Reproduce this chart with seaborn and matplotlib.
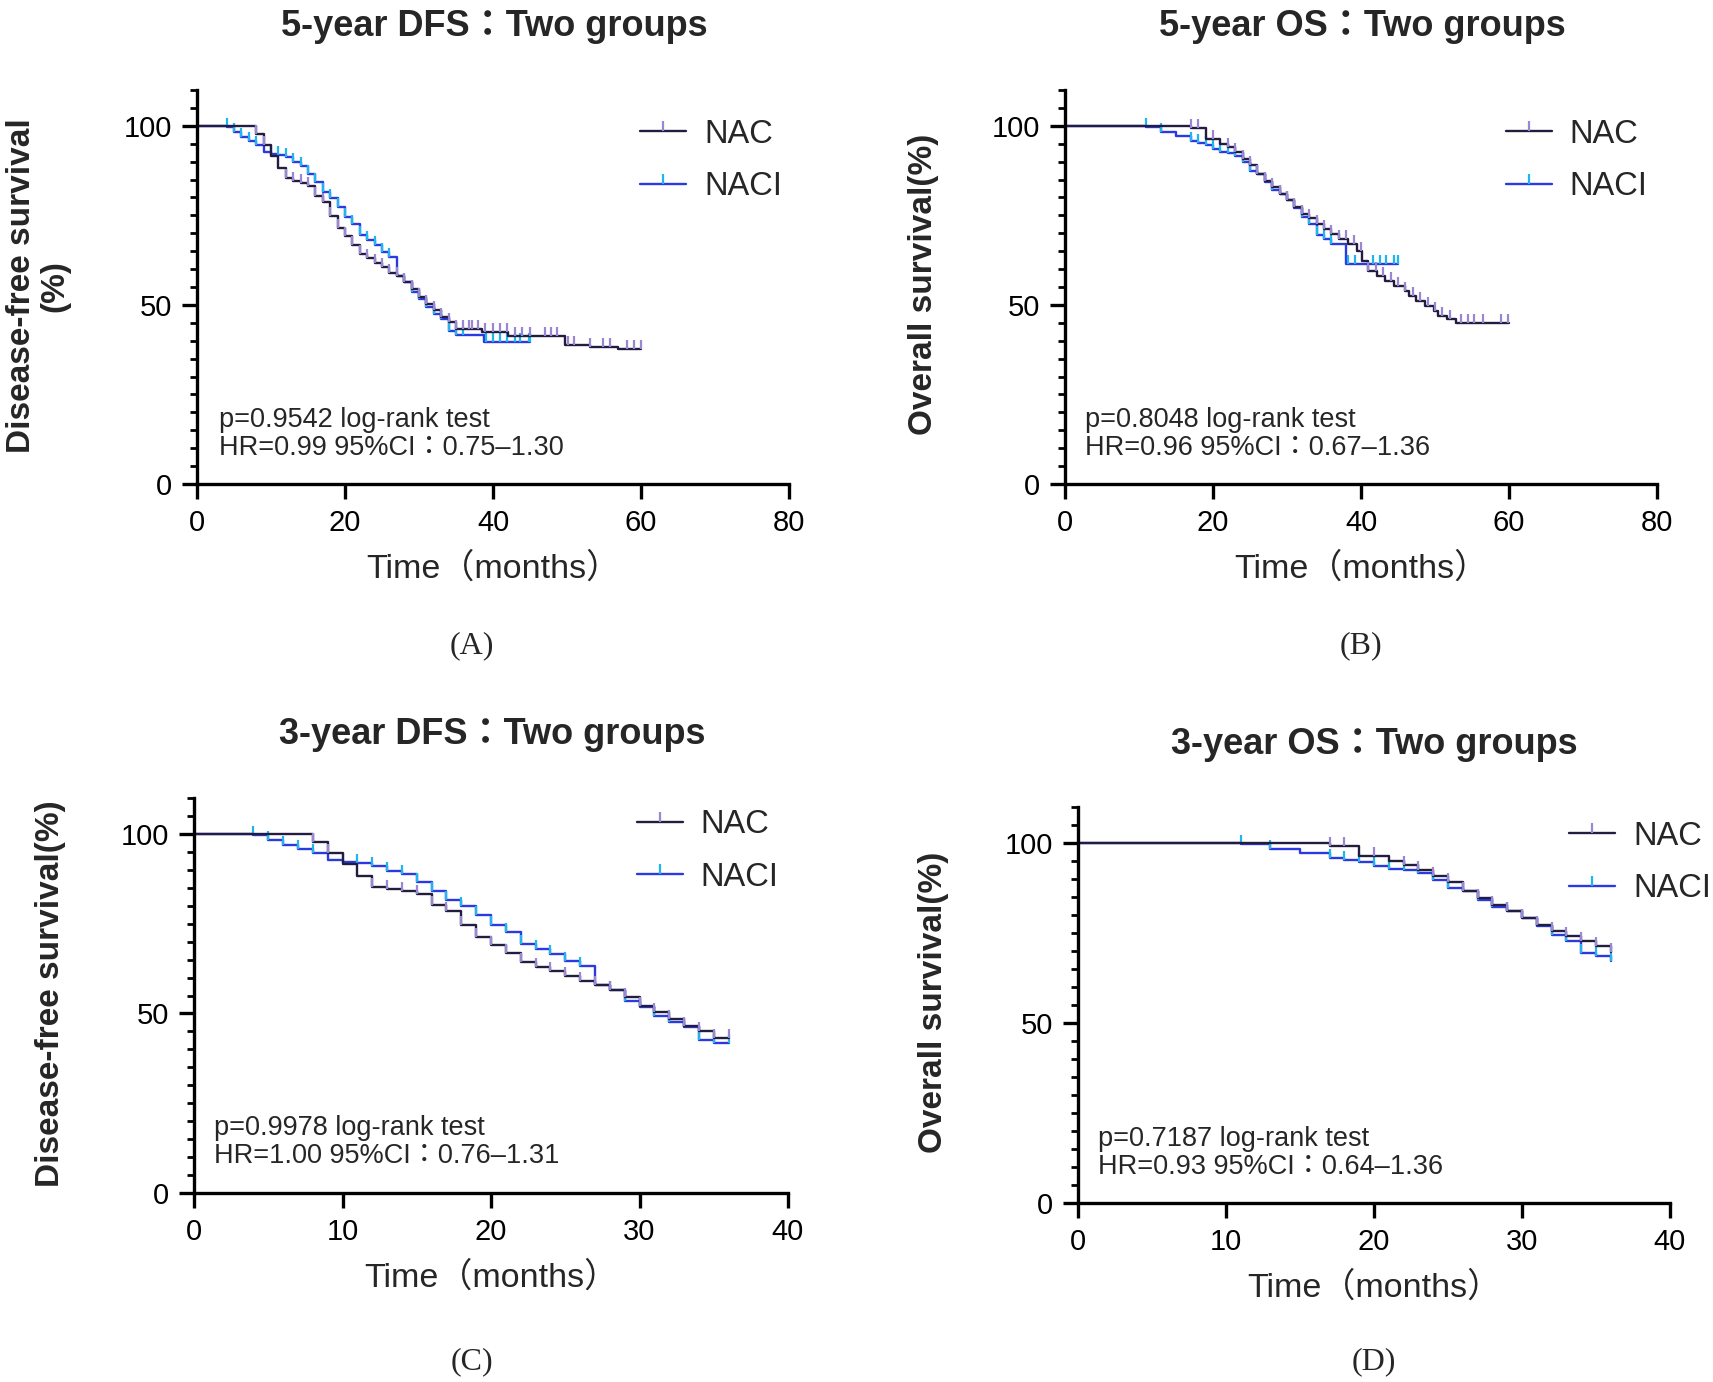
import numpy as np
import pandas as pd
import matplotlib
matplotlib.use("Agg")
import matplotlib.pyplot as plt
from matplotlib.ticker import MultipleLocator
from matplotlib.lines import Line2D
import seaborn as sns

dfs_nac_t = [0, 8, 9, 10, 11, 12, 13, 14, 15, 16, 17, 18, 19, 20, 21, 22, 23, 24, 25,
             26, 27, 28, 29, 30, 31, 32, 33, 34, 35, 38.5, 42, 49.7, 53.1, 56.9]
dfs_nac_s = [100, 97.7, 94.7, 91.6, 88.2, 85.3, 84.7, 84.0, 83.3, 80.3, 78.6, 74.7, 71.4,
             69.2, 66.8, 64.3, 63.0, 61.7, 60.5, 59.0, 58.0, 56.4, 54.5, 52.2, 50.3, 48.5,
             46.6, 45.2, 43.3, 42.4, 41.3, 38.8, 38.2, 37.7]
dfs_nac_end = 60
dfs_nac_cens = [8, 9, 12, 13, 14, 15, 16, 17, 18, 19, 20, 21, 22, 23, 24, 25, 26, 27, 28,
                29, 30, 31, 32, 33, 34, 35, 36, 36.7, 37.1, 38, 38.9, 40, 40.9, 41.9, 43,
                43.9, 45, 47, 47.9, 48.6, 50.2, 50.9, 53.1, 54.9, 55.8, 58.1, 59, 60]

dfs_naci_t = [0, 4, 5, 6, 7, 8, 9, 10, 11, 12, 13, 14, 15, 16, 17, 18, 19, 20, 21, 22,
              23, 24, 25, 26, 27, 28, 29, 30, 31, 32, 33, 34, 35, 38.8]
dfs_naci_s = [100, 99.7, 98.4, 97.0, 95.8, 94.6, 92.6, 92.1, 91.8, 91.2, 89.8, 88.7, 86.5,
              84.2, 81.6, 79.8, 77.3, 74.5, 72.6, 69.4, 68.0, 66.6, 64.7, 63.3, 58.0,
              56.4, 53.6, 51.7, 49.4, 47.5, 46.1, 42.6, 41.7, 39.6]
dfs_naci_end = 45
dfs_naci_cens = [4, 5, 6, 7, 8, 10, 11, 12, 13, 14, 15, 16, 17, 18, 19, 20, 21, 22, 23,
                 24, 25, 26, 28, 29, 30, 31, 32, 33, 34, 35, 36, 39.1, 40, 40.9, 41.9,
                 43, 43.7, 44.8, 45]

os_nac_t = [0, 17, 19, 21, 22, 23, 24, 25, 26, 27, 28, 29, 30, 31, 32, 33, 34, 35, 36,
            37, 38.3, 39.5, 40.1, 41, 42.2, 43.2, 44.4, 45.9, 46.5, 47.4, 48.6, 49.8,
            50.4, 51.6, 52.8]
os_nac_s = [100, 99.3, 96.3, 94.9, 94.0, 92.6, 90.7, 89.1, 86.6, 84.7, 82.9, 81.0, 79.2,
            77.3, 75.5, 74.3, 72.7, 71.3, 69.8, 68.4, 67.0, 65.1, 62.3, 59.5, 58.1, 56.7,
            55.3, 53.9, 52.5, 51.1, 49.7, 48.3, 46.9, 46.0, 45.0]
os_nac_end = 60
os_nac_cens = [17, 18, 20, 22, 23, 24, 25, 26, 27, 28, 29, 30, 31, 32, 33, 34, 35, 36,
               37, 38, 39, 40, 41, 42, 43, 44, 45, 46, 47, 48, 49, 50, 51, 52,
               53.5, 54.4, 55.3, 56.5, 58.9, 59.8]

os_naci_t = [0, 11, 13, 15, 17, 18, 19, 20, 21, 22, 23, 24, 25, 26, 27, 28, 29, 30, 31,
             32, 33, 34, 35, 36, 38]
os_naci_s = [100, 99.7, 98.4, 97.2, 95.8, 95.2, 94.7, 93.5, 92.8, 92.4, 91.7, 89.8, 87.5,
             86.6, 84.3, 82.2, 81.0, 79.2, 77.0, 74.5, 72.7, 69.4, 68.5, 67.1, 61.4]
os_naci_end = 45
os_naci_cens = [11, 13, 17, 18, 19, 20, 21, 22, 23, 24, 25, 26, 27, 28, 29, 30, 31, 32,
                33, 34, 35, 36, 38.3, 39.2, 41.6, 42.5, 43.4, 44.4, 45]

titles = ["5-year DFS\uff1aTwo groups", "5-year OS\uff1aTwo groups",
          "3-year DFS\uff1aTwo groups", "3-year OS\uff1aTwo groups"]
ylabels = ["Disease-free survival\n(%)", "Overall survival(%)",
           "Disease-free survival(%)", "Overall survival(%)"]
stats = ["p=0.9542 log-rank test\nHR=0.99 95%CI\uff1a0.75\u20131.30",
         "p=0.8048 log-rank test\nHR=0.96 95%CI\uff1a0.67\u20131.36",
         "p=0.9978 log-rank test\nHR=1.00 95%CI\uff1a0.76\u20131.31",
         "p=0.7187 log-rank test\nHR=0.93 95%CI\uff1a0.64\u20131.36"]
captions = ["(A)", "(B)", "(C)", "(D)"]
groups = ["NAC", "NACI"]

NAC_LINE, NAC_TICK = "#221d3f", "#9a86d2"
NACI_LINE, NACI_TICK = "#2a3ae0", "#1fb6ee"

sns.set_style("ticks")
plt.rcParams['font.family'] = ['Liberation Sans', 'Noto Sans CJK JP']
FAM = ['Liberation Sans', 'Noto Sans CJK JP']

W, H = 1713, 1382
fig = plt.figure(figsize=(W / 100, H / 100), dpi=100)


def px_axes(left, right, y0, ytop):
    return fig.add_axes([left / W, 1 - y0 / H, (right - left) / W, (y0 - ytop) / H])


def km(ax, t, s, end, cens, line_c, tick_c, tmax):
    t = np.array(t, float)
    s = np.array(s, float)
    keep = t <= tmax
    tt = np.append(t[keep], min(end, tmax))
    ss = np.append(s[keep], s[keep][-1])
    df = pd.DataFrame({"t": tt, "s": ss})
    sns.lineplot(data=df, x="t", y="s", ax=ax, drawstyle="steps-post", color=line_c,
                 lw=1.7, estimator=None, sort=False)
    c = np.array(cens, float)
    c = c[c <= min(end, tmax)]
    cy = s[np.searchsorted(t, c, side="right") - 1]
    ax.plot(c, cy, ls="", marker=2, ms=6.5, mew=1.6, color=tick_c)


panels = [
    dict(box=(197, 789, 484, 90), xmax=80, tmax=60, data="dfs",
         leg=(0.749, 0.821), txt=(0.037, 0.127),
         title_xy=(494, 26), cap_xy=(472, 646), ylab_xy=(38, 286)),
    dict(box=(1065, 1657, 484, 90), xmax=80, tmax=60, data="os",
         leg=(0.745, 0.821), txt=(0.034, 0.127),
         title_xy=(1362, 26), cap_xy=(1361, 646), ylab_xy=(923, 284)),
    dict(box=(194, 788, 1193, 798), xmax=40, tmax=36, data="dfs",
         leg=(0.746, 0.866), txt=(0.034, 0.129),
         title_xy=(492, 735), cap_xy=(472, 1362), ylab_xy=(51, 994)),
    dict(box=(1078, 1670, 1203, 807), xmax=40, tmax=36, data="os",
         leg=(0.830, 0.860), txt=(0.034, 0.126),
         title_xy=(1374, 745), cap_xy=(1374, 1362), ylab_xy=(934, 1002)),
]

for i, p in enumerate(panels):
    ax = px_axes(*p["box"])
    if p["data"] == "dfs":
        km(ax, dfs_naci_t, dfs_naci_s, dfs_naci_end, dfs_naci_cens, NACI_LINE, NACI_TICK, p["tmax"])
        km(ax, dfs_nac_t, dfs_nac_s, dfs_nac_end, dfs_nac_cens, NAC_LINE, NAC_TICK, p["tmax"])
    else:
        km(ax, os_naci_t, os_naci_s, os_naci_end, os_naci_cens, NACI_LINE, NACI_TICK, p["tmax"])
        km(ax, os_nac_t, os_nac_s, os_nac_end, os_nac_cens, NAC_LINE, NAC_TICK, p["tmax"])

    ax.set_xlim(0, p["xmax"])
    ax.set_ylim(0, 110)
    ax.set_xticks(np.arange(0, p["xmax"] + 1, p["xmax"] // 4))
    ax.set_yticks([0, 50, 100])
    ax.yaxis.set_minor_locator(MultipleLocator(5))
    sns.despine(ax=ax)
    for sp in ["left", "bottom"]:
        ax.spines[sp].set_linewidth(2.4)
        ax.spines[sp].set_color("black")
    ax.tick_params(which="major", length=11, width=2.4, labelsize=21, pad=7, colors="black")
    ax.tick_params(which="minor", length=5, width=2.0, colors="black")
    ax.set_xlabel("Time\uff08months\uff09", fontsize=24.5, family=FAM, labelpad=11)
    ax.set_ylabel("")

    handles = [
        (Line2D([], [], color=NAC_LINE, lw=1.7), Line2D([], [], color=NAC_TICK, ls="", marker=2, ms=7, mew=1.6)),
        (Line2D([], [], color=NACI_LINE, lw=1.7), Line2D([], [], color=NACI_TICK, ls="", marker=2, ms=7, mew=1.6)),
    ]
    ax.legend(handles, groups, loc="center left", bbox_to_anchor=p["leg"], frameon=False,
              fontsize=23.5, borderpad=0, borderaxespad=0, handlelength=1.4,
              handletextpad=0.55, labelspacing=0.66)

    ax.text(p["txt"][0], p["txt"][1], stats[i], transform=ax.transAxes, ha="left",
            va="center", fontsize=19.5, family=FAM, linespacing=1.12)

    fig.text(p["title_xy"][0] / W, 1 - p["title_xy"][1] / H, titles[i], ha="center",
             va="center", fontsize=26, fontweight="bold", family=FAM)
    fig.text(p["ylab_xy"][0] / W, 1 - p["ylab_xy"][1] / H, ylabels[i], ha="center",
             va="center", rotation=90, fontsize=24, fontweight="bold", family=FAM,
             multialignment="center", linespacing=1.1)
    fig.text(p["cap_xy"][0] / W, 1 - p["cap_xy"][1] / H, captions[i], ha="center",
             va="center", fontsize=23, family="Liberation Serif")

fig.savefig("out.png", dpi=100, facecolor="white")
